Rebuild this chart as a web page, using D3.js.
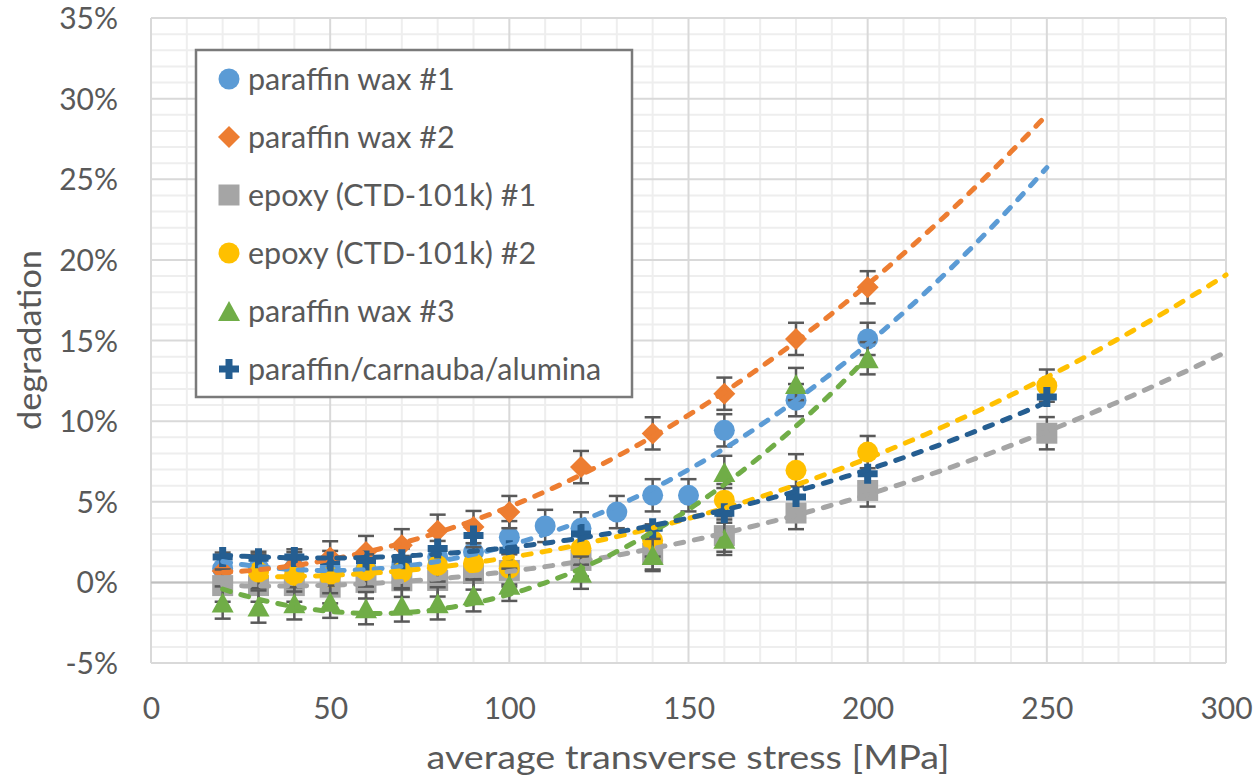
<!DOCTYPE html>
<html><head><meta charset="utf-8">
<script src="https://cdn.jsdelivr.net/npm/d3@7"></script>
<style>
body{margin:0;background:#fff;}
svg{display:block;font-family:Lato, "Open Sans", sans-serif;}
</style></head>
<body>
<svg id="chart" width="1258" height="779"></svg>
<script>
// ---------------- data ----------------
const seriesNames = ["paraffin wax #1","paraffin wax #2","epoxy (CTD-101k) #1","epoxy (CTD-101k) #2","paraffin wax #3","paraffin/carnauba/alumina"];
const seriesColors = ["#5b9bd5","#ed7d31","#a5a5a5","#ffc000","#70ad47","#255e91"];
const seriesShapes = ["circle","diamond","square","circle","triangle","plus"];

const wax1X = [20,30,40,50,60,70,80,90,100,110,120,130,140,150,160,180,200];
const wax1Y = [0.85,0.9,0.87,0.95,0.87,1.1,1.57,1.88,2.8,3.5,3.35,4.36,5.4,5.4,9.43,11.3,15.1];
const wax2X = [20,30,40,50,60,70,80,90,100,120,140,160,180,200];
const wax2Y = [0.7,0.74,1.05,1.55,1.88,2.3,3.2,3.43,4.36,7.15,9.24,11.7,15.1,18.3];
const epoxy1X = [20,30,40,50,60,70,80,90,100,120,140,160,180,200,250];
const epoxy1Y = [-0.2,-0.2,-0.2,-0.3,0.0,0.1,0.12,0.55,0.74,1.36,1.8,2.9,4.3,5.7,9.25];
const epoxy2X = [30,40,50,60,70,80,90,100,120,140,160,180,200,250];
const epoxy2Y = [0.64,0.43,0.33,0.74,0.64,1.05,1.18,0.87,2.1,2.6,5.1,6.95,8.08,12.2];
const wax3X = [20,30,40,50,60,70,80,90,100,120,140,160,160,180,200];
const wax3Y = [-1.25,-1.5,-1.3,-1.2,-1.6,-1.43,-1.3,-0.8,-0.15,0.6,1.7,2.7,6.85,12.3,13.9];
const pcaX = [20,30,40,50,60,70,80,90,100,120,140,160,180,200,250];
const pcaY = [1.57,1.5,1.57,1.3,1.36,1.43,2.1,2.9,2.0,3.0,3.35,4.28,5.3,6.74,11.5];

const errorBar = [1,1,1,1,1,0];          // ± error (percentage points); 0 = none
const trendEnd = [250,250,300,300,200,250]; // x where forward-forecast trendline ends

const xTicks = [0,50,100,150,200,250,300];
const yTicks = [-5,0,5,10,15,20,25,30,35];
const xTitle = "average transverse stress [MPa]";
const yTitle = "degradation";

const seriesX = [wax1X,wax2X,epoxy1X,epoxy2X,wax3X,pcaX];
const seriesY = [wax1Y,wax2Y,epoxy1Y,epoxy2Y,wax3Y,pcaY];

// ---------------- chart ----------------
const svg = d3.select("#chart");
const L=151,R=1226,T=18,B=663;
const x = d3.scaleLinear().domain([0,300]).range([L,R]);
const y = d3.scaleLinear().domain([-5,35]).range([B,T]);
const txt = "#595959";

// grid
const g = svg.append("g");
g.selectAll(".mx").data(d3.range(0,301,10).filter(v=>v%50)).join("line")
  .attr("x1",d=>x(d)).attr("x2",d=>x(d)).attr("y1",T).attr("y2",B)
  .attr("stroke","#eeeeee").attr("stroke-width",2);
g.selectAll(".my").data(d3.range(-5,36,1).filter(v=>v%5)).join("line")
  .attr("y1",d=>y(d)).attr("y2",d=>y(d)).attr("x1",L).attr("x2",R)
  .attr("stroke","#eeeeee").attr("stroke-width",2);
g.selectAll(".Mx").data(xTicks).join("line")
  .attr("x1",d=>x(d)).attr("x2",d=>x(d)).attr("y1",T).attr("y2",B)
  .attr("stroke","#d9d9d9").attr("stroke-width",2);
g.selectAll(".My").data(yTicks).join("line")
  .attr("y1",d=>y(d)).attr("y2",d=>y(d)).attr("x1",L).attr("x2",R)
  .attr("stroke","#d9d9d9").attr("stroke-width",2);
g.append("line").attr("x1",L).attr("x2",R).attr("y1",y(0)).attr("y2",y(0))
  .attr("stroke","#bfbfbf").attr("stroke-width",2);

// axes labels via d3 axes
const xAxis = svg.append("g").attr("transform",`translate(0,${B})`)
  .call(d3.axisBottom(x).tickValues(xTicks).tickSize(0).tickPadding(35).tickFormat(d3.format("d")));
const yAxis = svg.append("g").attr("transform",`translate(${L},0)`)
  .call(d3.axisLeft(y).tickValues(yTicks).tickSize(0).tickPadding(33).tickFormat(d=>d+"%"));
[xAxis,yAxis].forEach(a=>{
  a.select(".domain").remove();
  a.selectAll("text").attr("fill",txt).style("font-size","30px").style("font-family","Lato");
});
yAxis.selectAll("text").attr("dy","0.35em");

svg.append("text").attr("x",688).attr("y",769).attr("text-anchor","middle")
  .attr("fill",txt).style("font-size","33px")
  .attr("textLength",523).attr("lengthAdjust","spacingAndGlyphs").text(xTitle);
svg.append("text").attr("transform","translate(41,340) rotate(-90)").attr("text-anchor","middle")
  .attr("fill",txt).style("font-size","32px")
  .attr("textLength",180).attr("lengthAdjust","spacingAndGlyphs").text(yTitle);

// marker shapes
function markerPath(shape,s){
  switch(shape){
    case "circle": return d3.symbol(d3.symbolCircle, Math.PI*Math.pow(10.5*s,2))();
    case "diamond": { const r=11*s; return `M0,${-r}L${r},0L0,${r}L${-r},0Z`; }
    case "square": { const h=10.5*s; return `M${-h},${-h}H${h}V${h}H${-h}Z`; }
    case "triangle": { const w=11*s,h=10*s; return `M0,${-h}L${w},${h}L${-w},${h}Z`; }
    case "plus": { const a=10*s,t=3.5*s; return `M${-t},${-a}H${t}V${-t}H${a}V${t}H${t}V${a}H${-t}V${t}H${-a}V${-t}H${-t}Z`; }
  }
}

// quadratic least squares trendline
function quadFit(xs,ys){
  const n=xs.length; let S=[0,0,0,0,0],Ty=[0,0,0];
  for(let i=0;i<n;i++){const xv=xs[i],yv=ys[i];
    for(let k=0;k<5;k++)S[k]+=Math.pow(xv,k);
    for(let k=0;k<3;k++)Ty[k]+=yv*Math.pow(xv,k);}
  const M=[[S[0],S[1],S[2],Ty[0]],[S[1],S[2],S[3],Ty[1]],[S[2],S[3],S[4],Ty[2]]];
  for(let i=0;i<3;i++){for(let j=i+1;j<3;j++){const f=M[j][i]/M[i][i];for(let k=i;k<4;k++)M[j][k]-=f*M[i][k];}}
  const c=[0,0,0];
  for(let i=2;i>=0;i--){let s=M[i][3];for(let k=i+1;k<3;k++)s-=M[i][k]*c[k];c[i]=s/M[i][i];}
  return v=>c[0]+c[1]*v+c[2]*v*v;
}

const markersG = svg.append("g");
seriesNames.forEach((name,i)=>{
  const pts = seriesX[i].map((xv,j)=>({x:xv,y:seriesY[i][j]}));
  const sg = markersG.append("g");
  if(errorBar[i]>0){
    const e=errorBar[i];
    const eb = sg.selectAll(".eb").data(pts).join("g").attr("stroke","#595959").attr("stroke-width",2.5);
    eb.append("line").attr("x1",d=>x(d.x)).attr("x2",d=>x(d.x)).attr("y1",d=>y(d.y+e)).attr("y2",d=>y(d.y-e));
    eb.append("line").attr("x1",d=>x(d.x)-8).attr("x2",d=>x(d.x)+8).attr("y1",d=>y(d.y+e)).attr("y2",d=>y(d.y+e));
    eb.append("line").attr("x1",d=>x(d.x)-8).attr("x2",d=>x(d.x)+8).attr("y1",d=>y(d.y-e)).attr("y2",d=>y(d.y-e));
  }
  sg.selectAll(".m").data(pts).join("path")
    .attr("d",markerPath(seriesShapes[i],1))
    .attr("transform",d=>`translate(${x(d.x)},${y(d.y)})`)
    .attr("fill",seriesColors[i]);
});

const trendG = svg.append("g");
seriesNames.forEach((name,i)=>{
  const f = quadFit(seriesX[i],seriesY[i]);
  const x0 = d3.min(seriesX[i]);
  const samples = d3.range(x0, trendEnd[i]+0.01, 2);
  trendG.append("path").datum(samples)
    .attr("d",d3.line().x(v=>x(v)).y(v=>y(f(v))))
    .attr("fill","none").attr("stroke",seriesColors[i]).attr("stroke-width",5)
    .attr("stroke-dasharray","8,11").attr("stroke-linecap","round");
});

// legend
const lg = svg.append("g");
lg.append("rect").attr("x",196).attr("y",50).attr("width",436).attr("height",347)
  .attr("fill","#fff").attr("stroke","#7a7a7a").attr("stroke-width",2.5);
const ly = d3.scalePoint().domain(seriesNames).range([79,369]);
seriesNames.forEach((name,i)=>{
  lg.append("path").attr("d",markerPath(seriesShapes[i],1))
    .attr("transform",`translate(229,${ly(name)})`).attr("fill",seriesColors[i]);
  lg.append("text").attr("x",248).attr("y",ly(name)+10.5).attr("fill",txt)
    .style("font-size","30.5px").text(name);
});
</script>
</body></html>
